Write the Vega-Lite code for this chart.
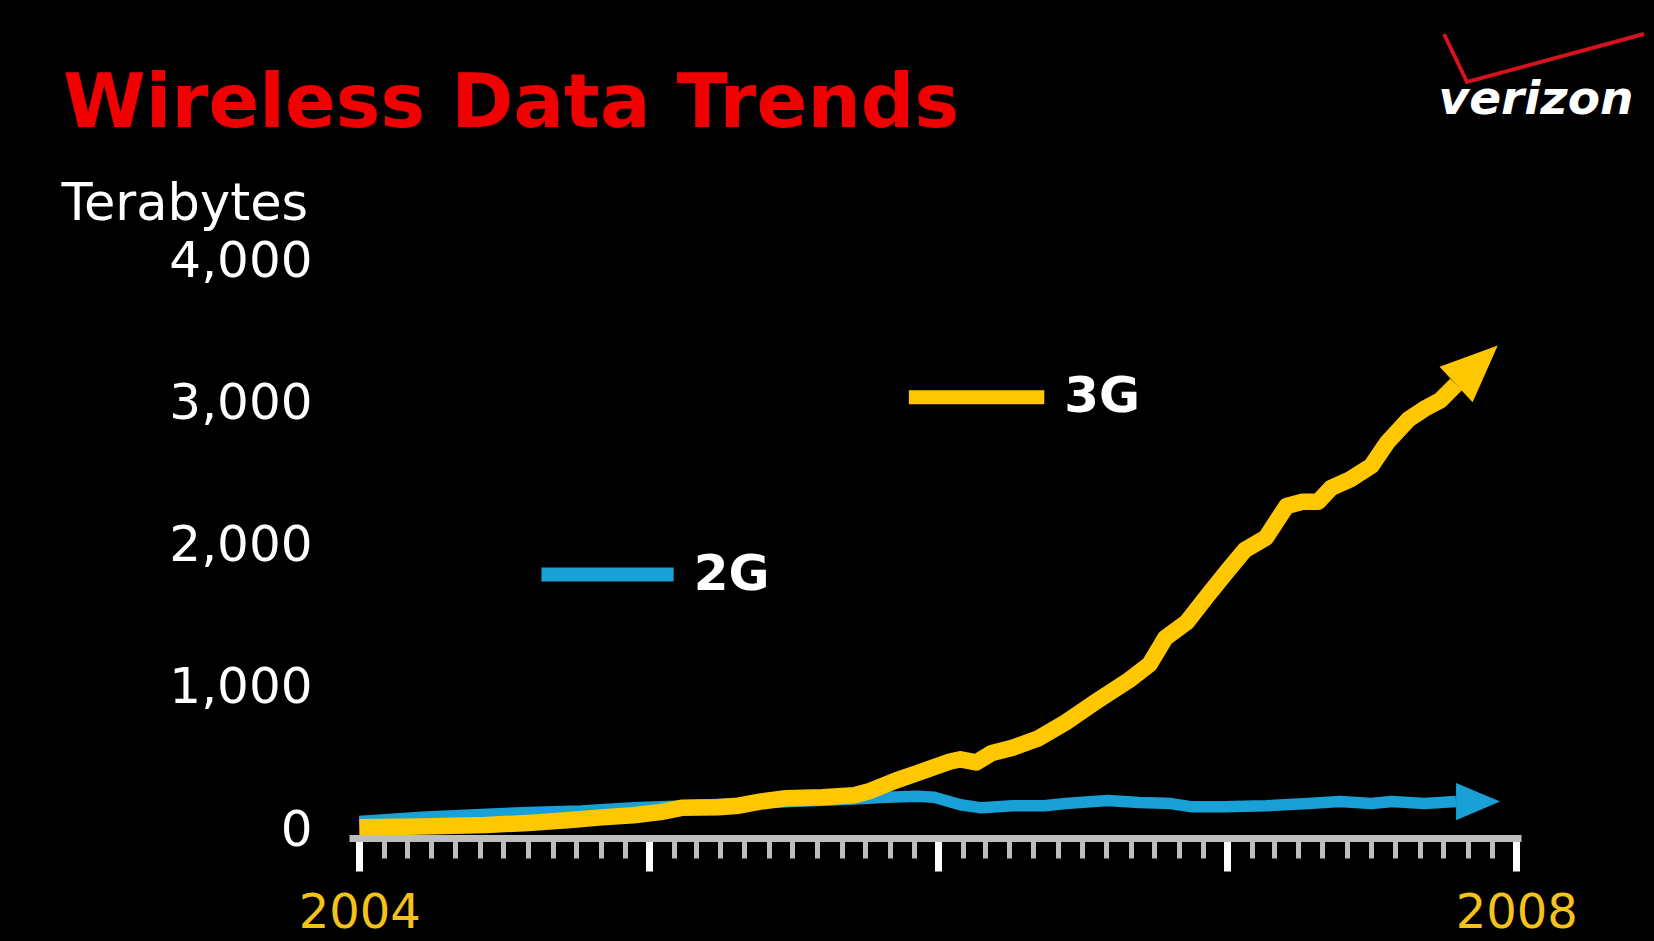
{
  "$schema": "https://vega.github.io/schema/vega-lite/v6.json",
  "width": 1172,
  "height": 577,
  "autosize": {"type": "none"},
  "padding": {"left": 349, "top": 261, "right": 133, "bottom": 103},
  "background": "#000000",
  "config": {"view": {"stroke": null}, "font": "DejaVu Sans"},
  "title": {
    "text": "Wireless Data Trends",
    "anchor": "start",
    "frame": "group",
    "dx": -286,
    "dy": 246,
    "baseline": "alphabetic",
    "color": "#F00000",
    "font": "DejaVu Sans",
    "fontSize": 75,
    "fontWeight": "bold",
    "offset": 0
  },
  "datasets": {
    "traffic": [
      {"series": "2G", "date": "2004-01-01", "tb": 60},
      {"series": "2G", "date": "2004-03-20", "tb": 90},
      {"series": "2G", "date": "2004-05-27", "tb": 108},
      {"series": "2G", "date": "2004-08-01", "tb": 124},
      {"series": "2G", "date": "2004-10-07", "tb": 134},
      {"series": "2G", "date": "2004-12-12", "tb": 156},
      {"series": "2G", "date": "2005-02-18", "tb": 171},
      {"series": "2G", "date": "2005-04-24", "tb": 186},
      {"series": "2G", "date": "2005-06-30", "tb": 200},
      {"series": "2G", "date": "2005-09-04", "tb": 215},
      {"series": "2G", "date": "2005-10-27", "tb": 230},
      {"series": "2G", "date": "2005-12-06", "tb": 237},
      {"series": "2G", "date": "2005-12-27", "tb": 230},
      {"series": "2G", "date": "2006-01-29", "tb": 178},
      {"series": "2G", "date": "2006-02-25", "tb": 156},
      {"series": "2G", "date": "2006-04-05", "tb": 171},
      {"series": "2G", "date": "2006-05-15", "tb": 171},
      {"series": "2G", "date": "2006-06-11", "tb": 186},
      {"series": "2G", "date": "2006-08-03", "tb": 208},
      {"series": "2G", "date": "2006-09-12", "tb": 193},
      {"series": "2G", "date": "2006-10-22", "tb": 186},
      {"series": "2G", "date": "2006-11-18", "tb": 163},
      {"series": "2G", "date": "2006-12-28", "tb": 163},
      {"series": "2G", "date": "2007-02-19", "tb": 171},
      {"series": "2G", "date": "2007-04-13", "tb": 186},
      {"series": "2G", "date": "2007-05-23", "tb": 200},
      {"series": "2G", "date": "2007-07-02", "tb": 186},
      {"series": "2G", "date": "2007-07-28", "tb": 200},
      {"series": "2G", "date": "2007-09-07", "tb": 186},
      {"series": "2G", "date": "2007-10-17", "tb": 200},
      {"series": "3G", "date": "2004-01-01", "tb": 20},
      {"series": "3G", "date": "2004-03-20", "tb": 25},
      {"series": "3G", "date": "2004-06-09", "tb": 35},
      {"series": "3G", "date": "2004-08-01", "tb": 50},
      {"series": "3G", "date": "2004-09-24", "tb": 70},
      {"series": "3G", "date": "2004-11-02", "tb": 89},
      {"series": "3G", "date": "2004-12-12", "tb": 104},
      {"series": "3G", "date": "2005-01-15", "tb": 126},
      {"series": "3G", "date": "2005-02-11", "tb": 156},
      {"series": "3G", "date": "2005-03-29", "tb": 160},
      {"series": "3G", "date": "2005-04-24", "tb": 171},
      {"series": "3G", "date": "2005-05-21", "tb": 200},
      {"series": "3G", "date": "2005-06-23", "tb": 223},
      {"series": "3G", "date": "2005-08-08", "tb": 230},
      {"series": "3G", "date": "2005-09-17", "tb": 245},
      {"series": "3G", "date": "2005-10-07", "tb": 275},
      {"series": "3G", "date": "2005-11-09", "tb": 349},
      {"series": "3G", "date": "2005-12-06", "tb": 401},
      {"series": "3G", "date": "2006-01-16", "tb": 482},
      {"series": "3G", "date": "2006-01-29", "tb": 497},
      {"series": "3G", "date": "2006-02-18", "tb": 475},
      {"series": "3G", "date": "2006-03-10", "tb": 542},
      {"series": "3G", "date": "2006-04-05", "tb": 579},
      {"series": "3G", "date": "2006-05-08", "tb": 646},
      {"series": "3G", "date": "2006-06-11", "tb": 757},
      {"series": "3G", "date": "2006-07-20", "tb": 905},
      {"series": "3G", "date": "2006-08-30", "tb": 1054},
      {"series": "3G", "date": "2006-09-25", "tb": 1165},
      {"series": "3G", "date": "2006-10-15", "tb": 1351},
      {"series": "3G", "date": "2006-11-11", "tb": 1462},
      {"series": "3G", "date": "2006-12-07", "tb": 1647},
      {"series": "3G", "date": "2007-01-03", "tb": 1833},
      {"series": "3G", "date": "2007-01-23", "tb": 1967},
      {"series": "3G", "date": "2007-02-19", "tb": 2056},
      {"series": "3G", "date": "2007-03-17", "tb": 2278},
      {"series": "3G", "date": "2007-04-06", "tb": 2308},
      {"series": "3G", "date": "2007-04-26", "tb": 2308},
      {"series": "3G", "date": "2007-05-12", "tb": 2404},
      {"series": "3G", "date": "2007-06-05", "tb": 2464},
      {"series": "3G", "date": "2007-07-02", "tb": 2560},
      {"series": "3G", "date": "2007-07-22", "tb": 2724},
      {"series": "3G", "date": "2007-08-18", "tb": 2887},
      {"series": "3G", "date": "2007-09-07", "tb": 2961},
      {"series": "3G", "date": "2007-09-27", "tb": 3020},
      {"series": "3G", "date": "2007-10-17", "tb": 3132}
    ],
    "keys": [
      {"series": "3G", "start": "2005-11-25", "date": "2006-05-15", "tb": 3043},
      {"series": "2G", "start": "2004-08-18", "date": "2005-02-01", "tb": 1796}
    ]
  },
  "encoding": {
    "x": {
      "field": "date",
      "type": "temporal",
      "scale": {
        "type": "utc",
        "domain": [
          {"year": 2003, "month": 12, "date": 19, "utc": true},
          {"year": 2008, "month": 1, "date": 7, "utc": true}
        ]
      },
      "axis": {
        "tickCount": {"interval": "month", "step": 1},
        "labelExpr": "(utcmonth(datum.value) == 0 && (utcyear(datum.value) == 2004 || utcyear(datum.value) == 2008)) ? utcFormat(datum.value, '%Y') : ''",
        "labelOverlap": false,
        "labelColor": "#F5C21B",
        "labelFont": "DejaVu Sans",
        "labelFontSize": 48,
        "labelPadding": 18,
        "domainColor": "#BDBDBD",
        "domainWidth": 7,
        "domainCap": "butt",
        "tickColor": {"condition": {"test": "utcmonth(datum.value) == 0", "value": "#FFFFFF"}, "value": "#BDBDBD"},
        "tickWidth": {"condition": {"test": "utcmonth(datum.value) == 0", "value": 7}, "value": 5},
        "tickSize": {"condition": {"test": "utcmonth(datum.value) == 0", "value": 33}, "value": 20},
        "tickCap": "butt",
        "grid": false,
        "title": "verizon",
        "titleX": 1089,
        "titleY": -725,
        "titleAlign": "left",
        "titleBaseline": "alphabetic",
        "titleAngle": 0,
        "titleFont": "DejaVu Sans",
        "titleFontSize": 47,
        "titleFontWeight": "bold",
        "titleFontStyle": "italic",
        "titleColor": "#FFFFFF"
      }
    },
    "y": {
      "field": "tb",
      "type": "quantitative",
      "scale": {"domain": [-56, 4000], "nice": false, "zero": false},
      "axis": {
        "values": [0, 1000, 2000, 3000, 4000],
        "format": ",d",
        "labelColor": "#FFFFFF",
        "labelFont": "DejaVu Sans",
        "labelFontSize": 50,
        "labelPadding": 37,
        "ticks": false,
        "domain": false,
        "grid": false,
        "title": "Terabytes",
        "titleAngle": 0,
        "titleAlign": "left",
        "titleBaseline": "alphabetic",
        "titleX": -288,
        "titleY": -42,
        "titleFont": "DejaVu Sans",
        "titleFontSize": 51,
        "titleFontWeight": "normal",
        "titleColor": "#FFFFFF"
      }
    },
    "color": {
      "field": "series",
      "type": "nominal",
      "scale": {"domain": ["3G", "2G"], "range": ["#FFC700", "#19A0D6"]},
      "legend": null
    }
  },
  "layer": [
    {
      "data": {"name": "traffic"},
      "transform": [{"filter": "datum.series == '2G'"}],
      "mark": {"type": "line", "strokeWidth": 11.5, "strokeCap": "butt", "strokeJoin": "round", "clip": false}
    },
    {
      "data": {"name": "traffic"},
      "transform": [{"filter": "datum.series == '3G'"}],
      "mark": {"type": "line", "strokeWidth": 16.5, "strokeCap": "butt", "strokeJoin": "round", "clip": false}
    },
    {
      "data": {"name": "traffic"},
      "transform": [
        {"filter": "datum.series == '2G'"},
        {"window": [{"op": "row_number", "as": "rk"}], "sort": [{"field": "date", "order": "descending"}]},
        {"filter": "datum.rk == 1"}
      ],
      "mark": {"type": "point", "shape": "M2,0L0,-0.85L0,0.85Z", "size": 1936, "angle": 0, "filled": true},
      "encoding": {
        "opacity": {
          "field": "rk",
          "type": "ordinal",
          "scale": {"domain": [1], "range": [1]},
          "legend": {
            "orient": "none",
            "legendX": 1093,
            "legendY": -305,
            "title": null,
            "labelExpr": "''",
            "padding": 0,
            "symbolType": "M-1,-0.24L-0.77,0.24L1,-0.24",
            "symbolSize": 40000,
            "symbolStrokeWidth": 4,
            "symbolFillColor": "transparent",
            "symbolStrokeColor": "#D6121C"
          }
        }
      }
    },
    {
      "data": {"name": "traffic"},
      "transform": [
        {"filter": "datum.series == '3G'"},
        {"window": [{"op": "row_number", "as": "rk"}], "sort": [{"field": "date", "order": "descending"}]},
        {"filter": "datum.rk == 1"}
      ],
      "mark": {"type": "point", "shape": "M2,0L0,-0.85L0,0.85Z", "size": 3250, "angle": -43, "filled": true, "opacity": 1}
    },
    {
      "data": {"name": "keys"},
      "mark": {"type": "rule", "strokeWidth": 14, "strokeCap": "butt"},
      "encoding": {"x2": {"field": "start"}}
    },
    {
      "data": {"name": "keys"},
      "mark": {"type": "text", "align": "left", "baseline": "middle", "dx": 20, "font": "DejaVu Sans", "fontSize": 50, "fontWeight": "bold"},
      "encoding": {"text": {"field": "series"}, "color": {"value": "#FFFFFF"}}
    }
  ]
}
